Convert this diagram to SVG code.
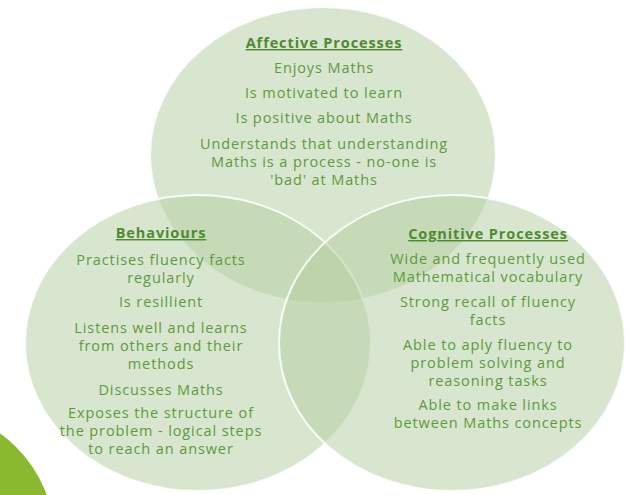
<svg xmlns="http://www.w3.org/2000/svg" width="629" height="495" viewBox="0 0 629 495">
<style>
.c{fill:#b3cea0;fill-opacity:.5;stroke:#ffffff;stroke-opacity:.85;stroke-width:2}
text{font-family:"Open Sans","Liberation Sans",sans-serif;font-size:14.5px;letter-spacing:0.9px;fill:#5e9a3c;text-anchor:middle}
.h{font-weight:bold;text-decoration:underline;fill:#4f8a30}
</style>
<rect width="629" height="495" fill="#ffffff"/>
<circle cx="-78" cy="541" r="133" fill="#8ab82e"/>
<g id="affective">
<ellipse class="c" cx="323" cy="155" rx="173" ry="148"/>
</g>
<g id="behaviours">
<ellipse class="c" cx="198" cy="343" rx="173" ry="148"/>
</g>
<g id="cognitive">
<ellipse class="c" cx="452" cy="343" rx="173" ry="148"/>
</g>
<g id="connectors"/>
<g id="affective-text">
<text class="h" x="324" y="48">Affective Processes</text>
<text x="324" y="73">Enjoys Maths</text>
<text x="324" y="98">Is motivated to learn</text>
<text x="324" y="123">Is positive about Maths</text>
<text x="324" y="149">Understands that understanding</text>
<text x="324" y="167">Maths is a process - no-one is</text>
<text x="324" y="185">'bad' at Maths</text>
</g>
<g id="behaviours-text">
<text class="h" x="161" y="238">Behaviours</text>
<text x="161" y="265">Practises fluency facts</text>
<text x="161" y="283">regularly</text>
<text x="161" y="307">Is resillient</text>
<text x="161" y="333">Listens well and learns</text>
<text x="161" y="351">from others and their</text>
<text x="161" y="369">methods</text>
<text x="161" y="395">Discusses Maths</text>
<text x="161" y="418">Exposes the structure of</text>
<text x="161" y="436">the problem - logical steps</text>
<text x="161" y="454">to reach an answer</text>
</g>
<g id="cognitive-text">
<text class="h" x="488" y="239">Cognitive Processes</text>
<text x="488" y="264">Wide and frequently used</text>
<text x="488" y="282">Mathematical vocabulary</text>
<text x="488" y="307">Strong recall of fluency</text>
<text x="488" y="325">facts</text>
<text x="488" y="350">Able to aply fluency to</text>
<text x="488" y="368">problem solving and</text>
<text x="488" y="386">reasoning tasks</text>
<text x="488" y="410">Able to make links</text>
<text x="488" y="428">between Maths concepts</text>
</g>
</svg>
